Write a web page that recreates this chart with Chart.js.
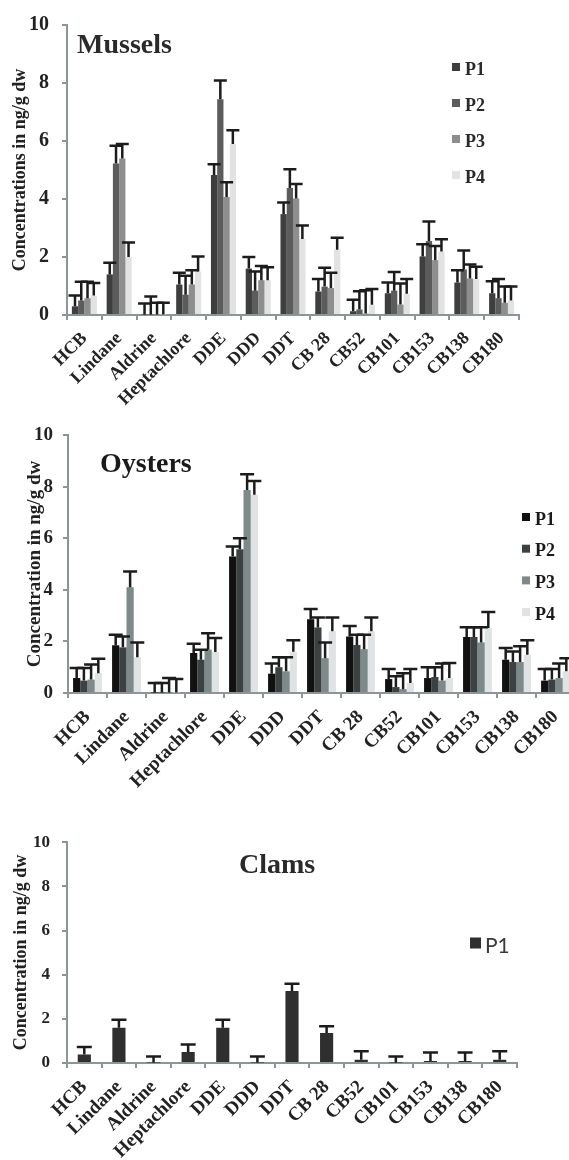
<!DOCTYPE html>
<html><head><meta charset="utf-8">
<script src="https://cdn.jsdelivr.net/npm/chart.js@4/dist/chart.umd.min.js"></script>
<style>
html,body{margin:0;padding:0;background:#fff;overflow:hidden;width:569px;height:1160px;position:relative;}
canvas{position:absolute;left:0;}
</style></head><body>
<canvas id="c1" width="569" height="420" style="top:0px"></canvas>
<canvas id="c2" width="580" height="420" style="top:410px"></canvas>
<canvas id="c3" width="569" height="340" style="top:820px"></canvas>
<script>
// ---------- data ----------
const categories = ['HCB','Lindane','Aldrine','Heptachlore','DDE','DDD','DDT','CB 28','CB52','CB101','CB153','CB138','CB180'];
const yTicks = [0, 2, 4, 6, 8, 10];

const musselsP1 = [0.30, 1.40, 0.02, 1.05, 4.83, 1.60, 3.48, 0.81, 0.13, 0.75, 2.02, 1.12, 0.75];
const musselsP2 = [0.50, 5.22, 0.02, 0.70, 7.44, 0.84, 4.38, 0.98, 0.19, 0.84, 2.55, 1.57, 0.58];
const musselsP3 = [0.58, 5.40, 0.02, 1.05, 4.07, 1.20, 4.02, 0.93, 0.05, 0.36, 1.89, 1.26, 0.42];
const musselsP4 = [0.67, 2.00, 0.02, 1.50, 5.90, 1.20, 2.62, 2.25, 0.35, 0.73, 2.19, 1.24, 0.50];
const musselsErrP1 = [0.37, 0.40, 0.38, 0.41, 0.37, 0.40, 0.40, 0.43, 0.40, 0.37, 0.42, 0.42, 0.41];
const musselsErrP2 = [0.65, 0.62, 0.62, 0.65, 0.65, 0.66, 0.65, 0.65, 0.63, 0.64, 0.67, 0.65, 0.66];
const musselsErrP3 = [0.57, 0.50, 0.40, 0.49, 0.51, 0.49, 0.50, 0.53, 0.80, 0.73, 0.49, 0.48, 0.56];
const musselsErrP4 = [0.43, 0.50, 0.40, 0.52, 0.47, 0.45, 0.47, 0.41, 0.55, 0.51, 0.42, 0.42, 0.48];

const oystersP1 = [0.58, 1.85, 0.02, 1.55, 5.29, 0.75, 2.86, 2.19, 0.54, 0.58, 2.17, 1.29, 0.48];
const oystersP2 = [0.48, 1.77, 0.02, 1.29, 5.57, 1.00, 2.54, 1.86, 0.23, 0.62, 2.17, 1.20, 0.52];
const oystersP3 = [0.52, 4.10, 0.02, 1.68, 7.87, 0.84, 1.35, 1.70, 0.15, 0.48, 1.96, 1.20, 0.58];
const oystersP4 = [0.77, 1.39, 0.02, 1.59, 7.68, 1.60, 2.39, 2.39, 0.39, 0.58, 2.52, 1.48, 0.84];
const oystersErrP1 = [0.39, 0.41, 0.37, 0.36, 0.39, 0.39, 0.40, 0.41, 0.39, 0.42, 0.38, 0.45, 0.45];
const oystersErrP2 = [0.49, 0.42, 0.37, 0.39, 0.43, 0.39, 0.39, 0.40, 0.42, 0.38, 0.38, 0.41, 0.41];
const oystersErrP3 = [0.58, 0.61, 0.56, 0.64, 0.61, 0.55, 0.61, 0.56, 0.62, 0.66, 0.59, 0.61, 0.56];
const oystersErrP4 = [0.56, 0.57, 0.52, 0.54, 0.54, 0.44, 0.54, 0.54, 0.54, 0.58, 0.62, 0.56, 0.51];

const clamsP1 = [0.38, 1.60, 0.02, 0.50, 1.60, 0.02, 3.26, 1.36, 0.15, 0.02, 0.09, 0.09, 0.15];
const clamsErrP1 = [0.34, 0.36, 0.28, 0.34, 0.36, 0.28, 0.33, 0.31, 0.38, 0.28, 0.38, 0.38, 0.38];

const seriesLabels = ['P1', 'P2', 'P3', 'P4'];

// ---------- styling ----------
Chart.defaults.font.family = '"Liberation Serif", "Times New Roman", serif';
Chart.defaults.color = '#222';
const axisColor = '#8d9696';
const serif = '"Liberation Serif", "Times New Roman", serif';

const errorBarPlugin = {
  id: 'errorBars',
  afterDatasetsDraw(chart, args, opts) {
    const ctx = chart.ctx, y = chart.scales.y;
    ctx.save();
    ctx.strokeStyle = opts.color; ctx.lineWidth = opts.lineWidth; ctx.lineCap = 'butt';
    chart.data.datasets.forEach((ds, i) => {
      const meta = chart.getDatasetMeta(i);
      meta.data.forEach((bar, j) => {
        const top = y.getPixelForValue(ds.data[j] + ds.errors[j]);
        ctx.beginPath();
        ctx.moveTo(bar.x, bar.y); ctx.lineTo(bar.x, top);
        ctx.moveTo(bar.x - opts.cap / 2, top); ctx.lineTo(bar.x + opts.cap / 2, top);
        ctx.stroke();
      });
    });
    ctx.restore();
  }
};

const overlayPlugin = {
  id: 'overlay',
  afterDraw(chart, args, o) {
    const ctx = chart.ctx;
    ctx.save();
    ctx.fillStyle = o.titleColor; ctx.font = o.titleFont;
    ctx.textAlign = 'left'; ctx.textBaseline = 'alphabetic';
    ctx.fillText(o.title, o.titleX, o.titleY);
    chart.data.datasets.forEach((ds, i) => {
      const cy = o.legendY + i * o.legendGap;
      ctx.fillStyle = ds.backgroundColor;
      ctx.fillRect(o.legendX, cy - o.box / 2 + o.boxShift, o.box, o.box);
      ctx.fillStyle = o.legendColor; ctx.font = o.legendFont; ctx.textBaseline = 'middle';
      ctx.fillText(ds.label, o.legendX + o.box + o.textGap, cy);
    });
    ctx.restore();
  }
};

function makeChart(id, datasets, cfg) {
  new Chart(document.getElementById(id), {
    type: 'bar',
    data: { labels: categories, datasets },
    plugins: [errorBarPlugin, overlayPlugin],
    options: {
      responsive: false, animation: false, devicePixelRatio: 1,
      layout: { padding: { top: cfg.padTop, right: cfg.padRight, left: 0, bottom: 0 } },
      datasets: { bar: { categoryPercentage: cfg.catPct, barPercentage: 1.0, borderWidth: 0 } },
      plugins: {
        legend: { display: false }, tooltip: { enabled: false },
        errorBars: { color: '#1c1c1c', lineWidth: 2.5, cap: cfg.cap },
        overlay: cfg.overlay
      },
      scales: {
        x: {
          grid: { drawOnChartArea: false, drawTicks: true, tickLength: 5, color: axisColor, lineWidth: 2, offset: true },
          border: { display: true, color: axisColor, width: 2 },
          ticks: { autoSkip: false, minRotation: 45, maxRotation: 45, padding: cfg.xPad,
                   font: { family: serif, weight: 'bold', size: cfg.xFont }, color: '#222' },
          afterFit: s => { s.height = cfg.xHeight; }
        },
        y: {
          min: 0, max: 10,
          afterBuildTicks: s => { s.ticks = yTicks.map(v => ({ value: v })); },
          grid: { drawOnChartArea: false, drawTicks: true, tickLength: 5, color: axisColor, lineWidth: 2 },
          border: { display: true, color: axisColor, width: 2 },
          ticks: { padding: cfg.yPad, font: { family: serif, weight: 'bold', size: cfg.yFont }, color: '#222' },
          title: { display: true, text: cfg.yTitle, color: '#222',
                   font: { family: serif, weight: 'bold', size: cfg.yTitleFont },
                   padding: { top: cfg.yTitlePad, bottom: 0 } },
          afterFit: s => { s.width = cfg.yWidth; }
        }
      }
    }
  });
}

const musselColors = ['#3e3e3e', '#5c5c5c', '#8e8e8e', '#e2e2e2'];
makeChart('c1', [
  { label: seriesLabels[0], data: musselsP1, errors: musselsErrP1, backgroundColor: musselColors[0] },
  { label: seriesLabels[1], data: musselsP2, errors: musselsErrP2, backgroundColor: musselColors[1] },
  { label: seriesLabels[2], data: musselsP3, errors: musselsErrP3, backgroundColor: musselColors[2] },
  { label: seriesLabels[3], data: musselsP4, errors: musselsErrP4, backgroundColor: musselColors[3] }
], {
  padTop: 18, padRight: 50, catPct: 0.72, cap: 13, xPad: 8, xFont: 18, xHeight: 105,
  yPad: 13, yFont: 20, yTitle: 'Concentrations in ng/g dw', yTitleFont: 18, yTitlePad: 10, yWidth: 67,
  overlay: { title: 'Mussels', titleX: 77, titleY: 53, titleFont: 'bold 28px ' + serif, titleColor: '#2a2a2a',
             legendX: 452, legendY: 70, legendGap: 36, box: 8, boxShift: -3, textGap: 5,
             legendFont: 'bold 18px ' + serif, legendColor: '#2a2a2a' }
});

const oysterColors = ['#111111', '#3c4242', '#7e8989', '#dfe3e3'];
makeChart('c2', [
  { label: seriesLabels[0], data: oystersP1, errors: oystersErrP1, backgroundColor: oysterColors[0] },
  { label: seriesLabels[1], data: oystersP2, errors: oystersErrP2, backgroundColor: oysterColors[1] },
  { label: seriesLabels[2], data: oystersP3, errors: oystersErrP3, backgroundColor: oysterColors[2] },
  { label: seriesLabels[3], data: oystersP4, errors: oystersErrP4, backgroundColor: oysterColors[3] }
], {
  padTop: 25, padRight: 5, catPct: 0.74, cap: 14, xPad: 8, xFont: 19, xHeight: 137,
  yPad: 10, yFont: 19, yTitle: 'Concentration in ng/g dw', yTitleFont: 19, yTitlePad: 24, yWidth: 68,
  overlay: { title: 'Oysters', titleX: 100, titleY: 62, titleFont: 'bold 28px ' + serif, titleColor: '#1a1a1a',
             legendX: 522, legendY: 110, legendGap: 31.7, box: 8, boxShift: -3, textGap: 5,
             legendFont: 'bold 18px ' + serif, legendColor: '#1a1a1a' }
});

makeChart('c3', [
  { label: seriesLabels[0], data: clamsP1, errors: clamsErrP1, backgroundColor: '#2f2f2f' }
], {
  padTop: 22, padRight: 52, catPct: 0.38, cap: 15, xPad: 8, xFont: 19, xHeight: 97,
  yPad: 12, yFont: 17, yTitle: 'Concentration in ng/g dw', yTitleFont: 18, yTitlePad: 11, yWidth: 67,
  overlay: { title: 'Clams', titleX: 239, titleY: 53, titleFont: 'bold 28px ' + serif, titleColor: '#2a2a2a',
             legendX: 470, legendY: 126, legendGap: 30, box: 11, boxShift: -3, textGap: 4,
             legendFont: '21px Lato, "Noto Sans", sans-serif', legendColor: '#3a3a3a' }
});
</script>
</body></html>
